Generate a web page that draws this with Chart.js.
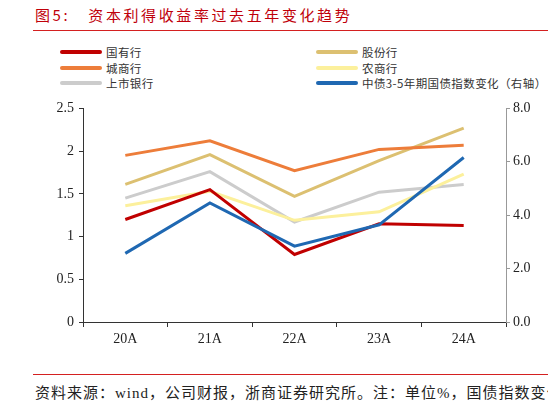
<!DOCTYPE html>
<html>
<head>
<meta charset="utf-8">
<script src="https://cdn.jsdelivr.net/npm/chart.js@4/dist/chart.umd.min.js"></script>
<style>
  body { margin: 0; width: 548px; height: 404px; background: #fff; position: relative; overflow: hidden; font-family: "Noto Sans CJK SC", sans-serif; }
  #title { position: absolute; left: 35px; top: 4px; font-size: 15px; color: #c0000a; white-space: nowrap; letter-spacing: 2.6px; }
  #title b { font-weight: normal; margin-right: 18px; }
  .rule { position: absolute; left: 33px; right: 0; height: 1px; background: #d42020; }
  #legend { position: absolute; left: 0; top: 0; width: 548px; }
  .item { position: absolute; height: 16px; display: flex; align-items: center; font-size: 11.5px; letter-spacing: 0.4px; color: #333; white-space: nowrap; }
  .item span.sw { display: inline-block; width: 42px; height: 4px; border-radius: 2px; margin-right: 4px; }
  #wrap { position: absolute; left: 0; top: 95px; width: 548px; height: 265px; }
  #foot { position: absolute; left: 35px; top: 381px; font-size: 15px; letter-spacing: 1px; color: #222; white-space: nowrap; font-family: "Liberation Serif", "Noto Sans CJK SC", serif; }
</style>
</head>
<body>
<div id="title"><b>图5:</b>资本利得收益率过去五年变化趋势</div>
<div class="rule" style="top:30px"></div>
<div id="legend"></div>
<div id="wrap"><canvas id="chart"></canvas></div>
<div class="rule" style="top:374px"></div>
<div id="foot">资料来源：wind，公司财报，浙商证券研究所。注：单位%，国债指数变化</div>
<script>
const years = ['20A', '21A', '22A', '23A', '24A'];

const stateBanks = [1.20, 1.55, 0.79, 1.15, 1.13];
const jointStock = [1.61, 1.96, 1.47, 1.89, 2.27];
const cityBanks = [1.95, 2.12, 1.77, 2.02, 2.07];
const ruralBanks = [1.36, 1.53, 1.19, 1.29, 1.73];
const listedBanks = [1.45, 1.76, 1.17, 1.52, 1.61];
const bondIndex = [2.57, 4.46, 2.84, 3.64, 6.16];

const leftTicks = [0, 0.5, 1, 1.5, 2, 2.5];
const rightTicks = [0, 2, 4, 6, 8];

const series = [
  { name: '国有行', data: stateBanks, color: '#c00000', axis: 'y' },
  { name: '股份行', data: jointStock, color: '#dcc071', axis: 'y' },
  { name: '城商行', data: cityBanks, color: '#ed7d3a', axis: 'y' },
  { name: '农商行', data: ruralBanks, color: '#fcf09c', axis: 'y' },
  { name: '上市银行', data: listedBanks, color: '#cccccc', axis: 'y' },
  { name: '中债3-5年期国债指数变化（右轴）', data: bondIndex, color: '#1f68b2', axis: 'y1' }
];

// legend: two columns, three rows
const legend = document.getElementById('legend');
series.forEach(function (s, i) {
  const col = i % 2, row = Math.floor(i / 2);
  const el = document.createElement('div');
  el.className = 'item';
  el.style.left = (col === 0 ? 60 : 316) + 'px';
  el.style.top = (44 + row * 15.5) + 'px';
  el.innerHTML = '<span class="sw" style="background:' + s.color + '"></span>' + s.name;
  legend.appendChild(el);
});

// draw order: blue on top-ish like the reference
const drawOrder = [4, 3, 1, 2, 0, 5];

const tickFont = { family: 'Liberation Serif', size: 14 };

new Chart(document.getElementById('chart'), {
  type: 'line',
  data: {
    labels: years,
    datasets: series.map(function (s, i) {
      return {
        label: s.name,
        data: s.data,
        borderColor: s.color,
        backgroundColor: s.color,
        borderWidth: 3,
        pointRadius: 0,
        tension: 0,
        yAxisID: s.axis,
        order: drawOrder.length - drawOrder.indexOf(i)
      };
    })
  },
  options: {
    responsive: true,
    maintainAspectRatio: false,
    animation: false,
    layout: { padding: { top: 10, left: 0, right: 0, bottom: 0 } },
    plugins: { legend: { display: false }, tooltip: { enabled: false } },
    scales: {
      x: {
        offset: true,
        grid: { offset: true, drawOnChartArea: false, tickLength: 5, color: '#333' },
        border: { color: '#333', width: 1 },
        ticks: { color: '#222', font: tickFont, padding: 4, maxRotation: 0 },
        afterFit: function (scale) { scale.height = 38; }
      },
      y: {
        position: 'left',
        min: 0, max: 2.5,
        afterBuildTicks: function (scale) { scale.ticks = leftTicks.map(function (v) { return { value: v }; }); },
        grid: { drawOnChartArea: false, tickLength: 4, color: '#333' },
        border: { color: '#333', width: 1 },
        ticks: { color: '#222', font: tickFont, padding: 5, callback: function (v) { return String(v); } },
        afterFit: function (scale) { scale.width = 83; }
      },
      y1: {
        position: 'right',
        min: 0, max: 8,
        afterBuildTicks: function (scale) { scale.ticks = rightTicks.map(function (v) { return { value: v }; }); },
        grid: { drawOnChartArea: false, tickLength: 4, color: '#999' },
        border: { color: '#999', width: 1 },
        ticks: { color: '#222', font: tickFont, padding: 3, callback: function (v) { return Number(v).toFixed(1); } },
        afterFit: function (scale) { scale.width = 42; }
      }
    }
  }
});
</script>
</body>
</html>
